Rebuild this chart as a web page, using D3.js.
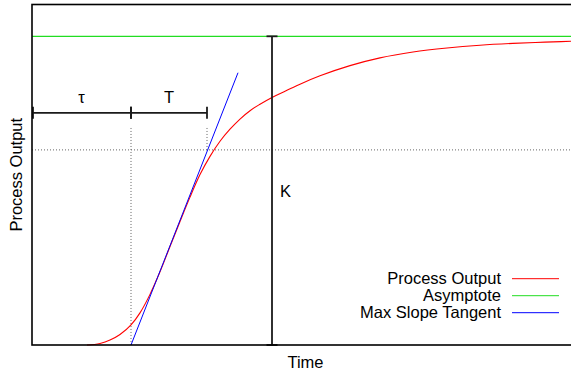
<!DOCTYPE html>
<html>
<head>
<meta charset="utf-8">
<script src="https://cdn.jsdelivr.net/npm/d3@7"></script>
<style>
  html, body { margin: 0; padding: 0; background: #fff; }
  svg { display: block; font-family: "Liberation Sans", Arial, Helvetica, sans-serif; }
</style>
</head>
<body>
<svg id="chart" width="571" height="372"></svg>
<script>
// Step response of a process with dead time (time, normalised output)
const times   = [2.75, 3.4, 3.9, 4.4, 4.95, 5.4, 5.9, 6.4, 6.9, 7.4, 7.9, 8.4, 8.9, 9.4, 9.9,
                 10.4, 10.9, 11.4, 12.0, 12.7, 13.4, 14.4, 15.9, 17.4, 19.05, 20.75, 22.4,
                 24.05, 25.65, 26.95];
const outputs = [0.000, 0.005, 0.016, 0.034, 0.065, 0.104, 0.164, 0.237, 0.319, 0.400, 0.479, 0.552, 0.611, 0.660, 0.699,
                 0.732, 0.759, 0.780, 0.802, 0.8235, 0.845, 0.872, 0.905, 0.930, 0.949, 0.962, 0.971,
                 0.977, 0.981, 0.984];

// Tangent through the point of maximum slope
const tangentTimes   = [4.95, 10.3];
const tangentOutputs = [0, 0.882];

// Characteristic quantities
const gainK      = 1.0;    // asymptote
const deadTime   = 4.95;   // tau
const timeConst  = 3.8;    // T
const level63    = 0.632;  // output after tau + T
const kBarTime   = 12.0;
const barLevel   = 0.752;
const guideTop   = 0.703;

const legendNames  = ["Process Output", "Asymptote", "Max Slope Tangent"];
const legendColors = ["#ff0000", "#22dd22", "#0000ff"];

const xMax = 27.35, yMax = 1.103;
const plotLeft = 32, plotRight = 579, plotTop = 4.5, plotBottom = 345;

const svg = d3.select("#chart");
const x = d3.scaleLinear().domain([0, xMax]).range([plotLeft, plotRight]);
const y = d3.scaleLinear().domain([0, yMax]).range([plotBottom, plotTop]);

const dotted = { stroke: "#666", width: 1, dash: "1,2" };

// dotted guides
svg.append("line")
  .attr("x1", x(0)).attr("x2", x(xMax))
  .attr("y1", y(level63)).attr("y2", y(level63))
  .attr("stroke", dotted.stroke).attr("stroke-width", dotted.width)
  .attr("stroke-dasharray", dotted.dash);
svg.append("line")
  .attr("x1", x(deadTime)).attr("x2", x(deadTime))
  .attr("y1", y(guideTop)).attr("y2", y(0))
  .attr("stroke", dotted.stroke).attr("stroke-width", dotted.width)
  .attr("stroke-dasharray", dotted.dash);
svg.append("line")
  .attr("x1", x(deadTime + timeConst)).attr("x2", x(deadTime + timeConst))
  .attr("y1", y(guideTop)).attr("y2", y(level63))
  .attr("stroke", dotted.stroke).attr("stroke-width", dotted.width)
  .attr("stroke-dasharray", dotted.dash);

// asymptote
svg.append("line")
  .attr("x1", x(0)).attr("x2", x(xMax))
  .attr("y1", y(gainK)).attr("y2", y(gainK))
  .attr("stroke", legendColors[1]).attr("stroke-width", 1.2);

// process output
const pts = times.map((t, i) => [t, outputs[i]]);
svg.append("path")
  .datum(pts)
  .attr("fill", "none")
  .attr("stroke", legendColors[0])
  .attr("stroke-width", 1.1)
  .attr("d", d3.line().x(d => x(d[0])).y(d => y(d[1])).curve(d3.curveMonotoneX));

// max slope tangent
svg.append("line")
  .attr("x1", x(tangentTimes[0])).attr("x2", x(tangentTimes[1]))
  .attr("y1", y(tangentOutputs[0])).attr("y2", y(tangentOutputs[1]))
  .attr("stroke", legendColors[2]).attr("stroke-width", 1);

// interval bars
const barColor = "#1a1a1a";
function hBar(t0, t1, v) {
  svg.append("line").attr("x1", x(t0)).attr("x2", x(t1)).attr("y1", y(v)).attr("y2", y(v))
    .attr("stroke", barColor).attr("stroke-width", 1.8);
  [t0, t1].forEach(t => svg.append("line")
    .attr("x1", x(t)).attr("x2", x(t)).attr("y1", y(v) - 6).attr("y2", y(v) + 6)
    .attr("stroke", barColor).attr("stroke-width", 1.8));
}
hBar(0.05, deadTime, barLevel);
hBar(deadTime, deadTime + timeConst, barLevel);

// K bar
svg.append("line").attr("x1", x(kBarTime)).attr("x2", x(kBarTime))
  .attr("y1", y(0)).attr("y2", y(gainK))
  .attr("stroke", barColor).attr("stroke-width", 1.8);
[0, gainK].forEach(v => svg.append("line")
  .attr("x1", x(kBarTime) - 5.5).attr("x2", x(kBarTime) + 5.5)
  .attr("y1", y(v)).attr("y2", y(v))
  .attr("stroke", barColor).attr("stroke-width", 1.8));

// annotation labels
const fs = "16.5px";
svg.append("text").attr("x", x(deadTime / 2)).attr("y", y(barLevel) - 10)
  .attr("text-anchor", "middle").attr("font-size", fs).text("τ");
svg.append("text").attr("x", x(deadTime + timeConst / 2)).attr("y", y(barLevel) - 10)
  .attr("text-anchor", "middle").attr("font-size", fs).text("T");
svg.append("text").attr("x", x(kBarTime) + 8).attr("y", y(gainK * 0.48))
  .attr("font-size", fs).text("K");

// frame
svg.append("rect")
  .attr("x", plotLeft).attr("y", plotTop)
  .attr("width", plotRight - plotLeft).attr("height", plotBottom - plotTop)
  .attr("fill", "none").attr("stroke", "#000").attr("stroke-width", 1.6);

// axis titles
svg.append("text").attr("x", (plotLeft + plotRight) / 2).attr("y", 368)
  .attr("text-anchor", "middle").attr("font-size", fs).text("Time");
svg.append("text")
  .attr("transform", `translate(22,${(plotTop + plotBottom) / 2}) rotate(-90)`)
  .attr("text-anchor", "middle").attr("font-size", fs).text("Process Output");

// legend
const legend = svg.append("g");
legendNames.forEach((name, i) => {
  const ly = 278.7 + i * 17;
  legend.append("text").attr("x", 501).attr("y", ly + 5.5)
    .attr("text-anchor", "end").attr("font-size", fs).text(name);
  legend.append("line").attr("x1", 512).attr("x2", 559).attr("y1", ly).attr("y2", ly)
    .attr("stroke", legendColors[i]).attr("stroke-width", 1);
});
</script>
</body>
</html>
